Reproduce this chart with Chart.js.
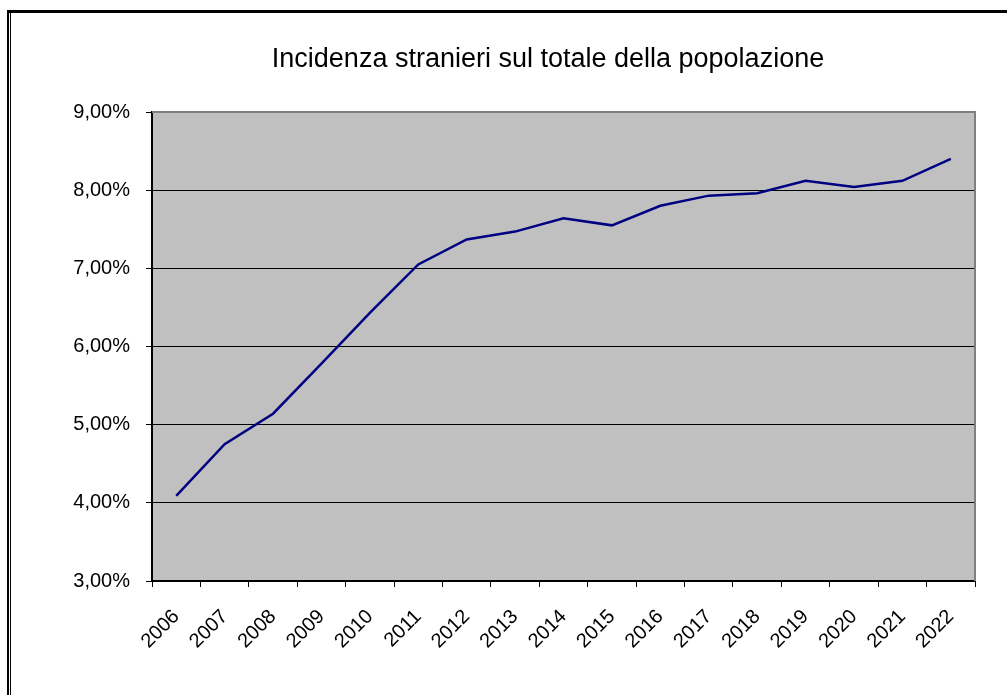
<!DOCTYPE html>
<html>
<head>
<meta charset="utf-8">
<script src="https://cdn.jsdelivr.net/npm/chart.js@4/dist/chart.umd.min.js"></script>
<style>
  html, body { margin: 0; padding: 0; background: #ffffff; }
  #wrap { width: 1007px; height: 695px; }
</style>
</head>
<body>
<div id="wrap"><canvas id="chart" width="1007" height="695"></canvas></div>
<script>
const years = ["2006", "2007", "2008", "2009", "2010", "2011", "2012", "2013", "2014",
  "2015", "2016", "2017", "2018", "2019", "2020", "2021", "2022"];
const incidence = [4.09, 4.75, 5.14, 5.78, 6.43, 7.05, 7.37, 7.47, 7.64,
  7.55, 7.80, 7.93, 7.96, 8.12, 8.04, 8.12, 8.40];
const titleText = "Incidenza stranieri sul totale della popolazione";

const fontFamily = "'Liberation Sans', Arial, sans-serif";
const fmt = (v) => v.toFixed(2).replace(".", ",") + "%";

// gray plot area, title and the outer frame of the old spreadsheet chart
const frame = {
  id: "frame",
  beforeDraw(chart) {
    const { ctx, chartArea: a } = chart;
    ctx.save();
    ctx.fillStyle = "#c0c0c0";
    ctx.fillRect(a.left, a.top, a.right - a.left, a.bottom - a.top);
    ctx.restore();
  },
  afterDraw(chart) {
    const { ctx, chartArea: a } = chart;
    ctx.save();
    ctx.fillStyle = "#808080";
    ctx.fillRect(a.left, a.top - 1, a.right - a.left + 1, 2);
    ctx.fillRect(a.right - 1, a.top - 1, 2, a.bottom - a.top + 1);

    ctx.fillStyle = "#000000";
    ctx.font = "27px " + fontFamily;
    ctx.textAlign = "center";
    ctx.textBaseline = "alphabetic";
    ctx.fillText(titleText, 548, 67);

    ctx.fillRect(7, 10, 1000, 3);
    ctx.fillRect(7, 10, 2, 685);
    ctx.fillRect(10, 13, 1, 682);
    ctx.restore();
  }
};

new Chart(document.getElementById("chart"), {
  type: "line",
  plugins: [frame],
  data: {
    labels: years,
    datasets: [{
      data: incidence,
      borderColor: "#000080",
      borderWidth: 2.5,
      pointRadius: 0,
      tension: 0,
      fill: false
    }]
  },
  options: {
    responsive: false,
    animation: false,
    layout: { padding: { left: 10, right: 32, top: 112, bottom: 0 } },
    plugins: {
      legend: { display: false },
      tooltip: { enabled: false },
      title: { display: false }
    },
    scales: {
      x: {
        offset: true,
        grid: { offset: true, drawOnChartArea: false, drawTicks: true, tickLength: 6, color: "#000000" },
        border: { color: "#000000", width: 2 },
        ticks: {
          color: "#000000",
          maxRotation: 45,
          minRotation: 45,
          padding: 18,
          font: { family: fontFamily, size: 20 }
        },
        afterFit(scale) { scale.height = 114; }
      },
      y: {
        min: 3,
        max: 9,
        grid: { color: "#000000", lineWidth: 1, tickLength: 6 },
        border: { color: "#000000", width: 2 },
        ticks: {
          stepSize: 1,
          color: "#000000",
          padding: 16,
          callback: (v) => fmt(v),
          font: { family: fontFamily, size: 20 }
        },
        afterFit(scale) { scale.width = 142; }
      }
    }
  }
});
</script>
</body>
</html>
